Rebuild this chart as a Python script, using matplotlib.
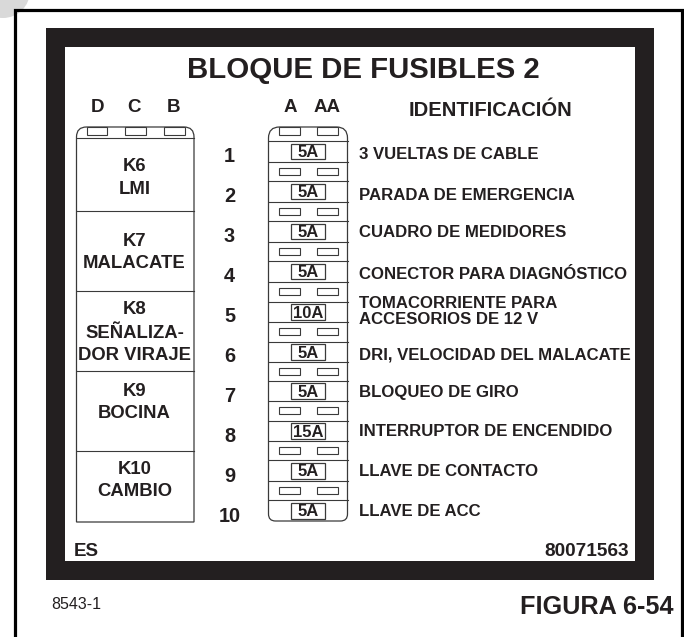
import matplotlib
matplotlib.use("Agg")
import matplotlib.pyplot as plt
from matplotlib.patches import Rectangle, Circle, PathPatch
from matplotlib.path import Path

# ---- content ----
title = "BLOQUE DE FUSIBLES 2"
relay_terminals = ["D", "C", "B"]
fuse_terminals = ["A", "AA"]
id_header = "IDENTIFICACIÓN"
relay_names = [["K6", "LMI"], ["K7", "MALACATE"], ["K8", "SEÑALIZA-", "DOR VIRAJE"],
               ["K9", "BOCINA"], ["K10", "CAMBIO"]]
fuse_numbers = ["1", "2", "3", "4", "5", "6", "7", "8", "9", "10"]
fuse_amps = ["5A", "5A", "5A", "5A", "10A", "5A", "5A", "15A", "5A", "5A"]
fuse_labels = ["3 VUELTAS DE CABLE", "PARADA DE EMERGENCIA", "CUADRO DE MEDIDORES",
               "CONECTOR PARA DIAGNÓSTICO", ["TOMACORRIENTE PARA", "ACCESORIOS DE 12 V"],
               "DRI, VELOCIDAD DEL MALACATE", "BLOQUEO DE GIRO",
               "INTERRUPTOR DE ENCENDIDO", "LLAVE DE CONTACTO", "LLAVE DE ACC"]
lang_code = "ES"
part_number = "80071563"
drawing_id = "8543-1"
figure_id = "FIGURA 6-54"

# ---- layout (pixel coordinates of the drawing) ----
INK = "#231f20"
EDGE = "#3a3a3a"
FONT = "Liberation Sans"
relay_rows = [138, 211, 291, 371, 451, 522]
relay_text_y = [[164.5, 188], [239, 261], [308, 332, 353], [390, 412], [468, 490]]
band_top = [141, 181, 221, 261, 301.5, 341.5, 380.5, 420.5, 460, 500]
band_bot = [161.5, 201.5, 241.5, 281.5, 322, 362, 401, 441, 481, 521]
label_y = [153, 194, 231, 273, None, 353, 391, 430, 470, 510]
number_y = [155, 195, 235, 274, 314, 354, 394, 434, 474, 514]

fig = plt.figure(figsize=(6.84, 6.37), dpi=100)
ax = fig.add_axes([0, 0, 1, 1])
ax.set_xlim(0, 684)
ax.set_ylim(637, 0)
ax.axis("off")


def txt(x, y, s, size, ha="center", weight="bold"):
    ax.text(x, y, s, fontsize=size, ha=ha, va="center_baseline", color=INK,
            family=FONT, weight=weight, zorder=5)


def rect(x0, y0, x1, y1, fc="white", ec=EDGE, lw=0.8, z=3):
    ax.add_patch(Rectangle((x0, y0), x1 - x0, y1 - y0, fc=fc, ec=ec, lw=lw, zorder=z))


def block(x0, y0, x1, y1, r_top, r_bot):
    v = [(x0, y1 - r_bot), (x0, y0 + r_top), (x0, y0), (x0 + r_top, y0), (x1 - r_top, y0),
         (x1, y0), (x1, y0 + r_top), (x1, y1 - r_bot)]
    c = [Path.MOVETO, Path.LINETO, Path.CURVE3, Path.CURVE3, Path.LINETO,
         Path.CURVE3, Path.CURVE3, Path.LINETO]
    if r_bot:
        v += [(x1, y1), (x1 - r_bot, y1), (x0 + r_bot, y1), (x0, y1), (x0, y1 - r_bot)]
        c += [Path.CURVE3, Path.CURVE3, Path.LINETO, Path.CURVE3, Path.CURVE3]
    else:
        v += [(x1, y1), (x0, y1), (x0, y1)]
        c += [Path.LINETO, Path.LINETO, Path.CLOSEPOLY]
    ax.add_patch(PathPatch(Path(v, c), fc="white", ec=EDGE, lw=0.9, zorder=2))


# background pieces
ax.add_patch(Circle((3, -9), 27, fc="#d9d9d9", ec="none", zorder=0))
ax.plot([14.5, 14.5, 681.5, 681.5], [637, 9.5, 9.5, 637], color="black", lw=2.3,
        solid_joinstyle="miter", zorder=1)
rect(46, 28, 654, 580, fc=INK, ec="none", lw=0, z=1)
rect(65, 47, 635, 561, fc="white", ec="none", lw=0, z=1)

# header texts
txt(363.5, 67, title, 21.2)
for x, s in zip([98, 134.5, 174], relay_terminals):
    txt(x, 105, s, 13.5)
for x, s in zip([290, 327], fuse_terminals):
    txt(x, 105, s, 13.5)
txt(490.5, 108, id_header, 14.5)

# relay block
block(76.5, 127, 194, relay_rows[-1], 10, 0)
for y in relay_rows[:-1]:
    ax.plot([76.5, 194], [y, y], color=EDGE, lw=0.8, zorder=3)
for x in [86.5, 125, 164]:
    rect(x, 127, x + 20.5, 135)
for names, ys in zip(relay_names, relay_text_y):
    for s, y in zip(names, ys):
        txt(134.5, y, s, 13.3)

# fuse block
block(268.5, 127, 347.5, 521, 11, 7)
for x in [278.5, 317]:
    rect(x, 127, x + 21, 135)
for i, (num, amp, lab) in enumerate(zip(fuse_numbers, fuse_amps, fuse_labels)):
    top, bot = band_top[i], band_bot[i]
    ax.plot([268.5, 347.5], [top, top], color=EDGE, lw=0.8, zorder=3)
    if i < 9:
        ax.plot([268.5, 347.5], [bot, bot], color=EDGE, lw=0.8, zorder=3)
        sy = (bot + band_top[i + 1]) / 2
        for x in [278.5, 317]:
            rect(x, sy - 3.7, x + 21, sy + 3.7)
    rect(291, top + 2.5, 325, bot - 2.5, lw=0.9)
    txt(308, (top + bot) / 2, amp, 12)
    txt(229.5, number_y[i], num, 14.3)
    if isinstance(lab, list):
        txt(359, 302.5, lab[0], 12.1, ha="left")
        txt(359, 318, lab[1], 12.1, ha="left")
    else:
        txt(359, label_y[i], lab, 12.1, ha="left")

# footers
txt(74, 550, lang_code, 13.5, ha="left")
txt(629, 550, part_number, 13.7, ha="right")
txt(51, 603, drawing_id, 11.5, ha="left", weight="normal")
txt(674, 605, figure_id, 18.2, ha="right")

fig.savefig("out.png", dpi=100, facecolor="white")
